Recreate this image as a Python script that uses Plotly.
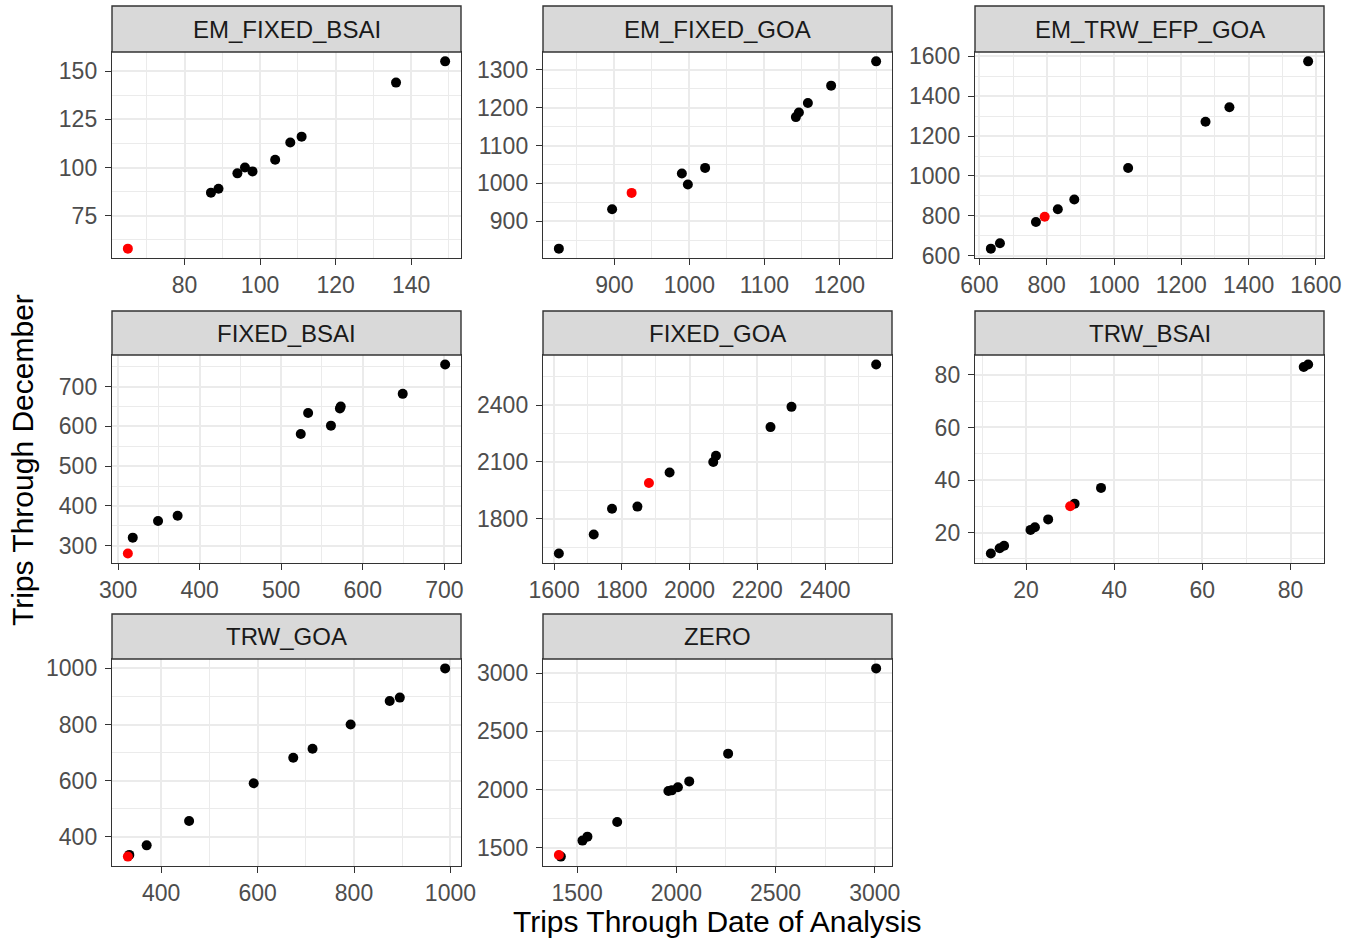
import numpy as np
import plotly.graph_objects as go

W, H = 1357, 943

panel_names = ["EM_FIXED_BSAI", "EM_FIXED_GOA", "EM_TRW_EFP_GOA",
               "FIXED_BSAI", "FIXED_GOA", "TRW_BSAI", "TRW_GOA", "ZERO"]

# black points (Trips Through Date of Analysis, Trips Through December)
em_fixed_bsai_x = [87, 89, 94, 96, 98, 104, 108, 111, 136, 149]
em_fixed_bsai_y = [87, 89, 97, 100, 98, 104, 113, 116, 144, 155]
em_fixed_goa_x = [826, 897, 990, 998, 1021, 1142, 1146, 1158, 1189, 1249]
em_fixed_goa_y = [828, 932, 1026, 997, 1041, 1175, 1187, 1212, 1258, 1322]
em_trw_efp_goa_x = [634, 661, 768, 833, 882, 1042, 1272, 1343, 1577]
em_trw_efp_goa_y = [635, 662, 769, 833, 882, 1040, 1272, 1345, 1575]
fixed_bsai_x = [318, 349, 373, 524, 533, 561, 572, 573, 649, 701]
fixed_bsai_y = [320, 362, 375, 581, 634, 602, 645, 650, 682, 756]
fixed_goa_x = [1614, 1717, 1771, 1846, 1941, 2070, 2078, 2239, 2301, 2551]
fixed_goa_y = [1616, 1717, 1853, 1864, 2044, 2100, 2133, 2284, 2391, 2615]
trw_bsai_x = [12, 14, 15, 21, 22, 25, 31, 37, 83, 84]
trw_bsai_y = [12, 14, 15, 21, 22, 25, 31, 37, 83, 84]
trw_goa_x = [334, 370, 458, 592, 674, 714, 793, 874, 895, 989]
trw_goa_y = [336, 370, 457, 591, 682, 714, 800, 884, 896, 1000]
zero_x = [1418, 1527, 1552, 1702, 1960, 1977, 2008, 2065, 2261, 3007]
zero_y = [1426, 1563, 1597, 1722, 1989, 1994, 2020, 2071, 2309, 3040]

# highlighted (red) point per panel, same order as panel_names
highlight_x = [65, 923, 794, 312, 1880, 30, 331, 1408]
highlight_y = [58, 975, 795, 280, 1989, 30, 330, 1440]

# major tick spacing per panel (x, y)
x_dticks = [20, 100, 200, 100, 200, 20, 200, 500]
y_dticks = [25, 100, 200, 100, 300, 20, 200, 500]

black_x = [em_fixed_bsai_x, em_fixed_goa_x, em_trw_efp_goa_x, fixed_bsai_x,
           fixed_goa_x, trw_bsai_x, trw_goa_x, zero_x]
black_y = [em_fixed_bsai_y, em_fixed_goa_y, em_trw_efp_goa_y, fixed_bsai_y,
           fixed_goa_y, trw_bsai_y, trw_goa_y, zero_y]

# layout in pixels
col_px = [(112, 461), (543, 892), (975, 1324)]
row_plot_px = [(52, 258), (355, 563), (659, 866)]
row_strip_px = [(6, 52), (311, 355), (614, 659)]

FONT = "Liberation Sans, Arial, sans-serif"
fig = go.Figure()
layout = dict(
    template="none",
    width=W, height=H, margin=dict(l=0, r=0, t=0, b=0, pad=0),
    paper_bgcolor="white", plot_bgcolor="white", showlegend=False,
    font=dict(family=FONT),
)
shapes = []
annotations = []


def rng(vals):
    lo, hi = min(vals), max(vals)
    pad = 0.05 * (hi - lo)
    return [lo - pad, hi + pad]


for i, name in enumerate(panel_names):
    r, c = divmod(i, 3)
    x0, x1 = col_px[c]
    py0, py1 = row_plot_px[r]
    sy0, sy1 = row_strip_px[r]
    xd = [x0 / W, x1 / W]
    yd = [1 - py1 / H, 1 - py0 / H]
    k = "" if i == 0 else str(i + 1)
    xs = black_x[i] + [highlight_x[i]]
    ys = black_y[i] + [highlight_y[i]]
    common = dict(
        automargin=False,
        showline=True, mirror=True, linecolor="#333333", linewidth=1.4,
        ticks="outside", ticklen=6, tickwidth=1.4, tickcolor="#333333",
        tickfont=dict(size=23, color="#4D4D4D", family=FONT),
        showgrid=True, gridcolor="#EBEBEB", gridwidth=2, zeroline=False,
        tick0=0,
    )
    layout["xaxis" + k] = dict(
        domain=xd, anchor="y" + k, range=rng(xs), dtick=x_dticks[i],
        minor=dict(showgrid=True, gridcolor="#EBEBEB", gridwidth=1,
                   dtick=x_dticks[i] / 2, tick0=0, ticks=""),
        **common)
    layout["yaxis" + k] = dict(
        domain=yd, anchor="x" + k, range=rng(ys), dtick=y_dticks[i],
        ticklabelstandoff=3,
        minor=dict(showgrid=True, gridcolor="#EBEBEB", gridwidth=1,
                   dtick=y_dticks[i] / 2, tick0=0, ticks=""),
        **common)
    fig.add_trace(go.Scatter(x=black_x[i], y=black_y[i], mode="markers",
                             marker=dict(color="black", size=10, line=dict(width=0)),
                             xaxis="x" + k, yaxis="y" + k))
    fig.add_trace(go.Scatter(x=[highlight_x[i]], y=[highlight_y[i]], mode="markers",
                             marker=dict(color="#FF0000", size=10, line=dict(width=0)),
                             xaxis="x" + k, yaxis="y" + k))
    shapes.append(dict(type="rect", xref="paper", yref="paper",
                       x0=x0 / W, x1=x1 / W, y0=1 - sy1 / H, y1=1 - sy0 / H,
                       fillcolor="#D9D9D9", line=dict(color="#333333", width=1.4),
                       layer="above"))
    annotations.append(dict(text=name, xref="paper", yref="paper",
                            x=(x0 + x1) / 2 / W, y=1 - (sy0 + sy1) / 2 / H,
                            showarrow=False, xanchor="center", yanchor="middle",
                            font=dict(size=24, color="#1A1A1A", family=FONT)))

annotations.append(dict(text="Trips Through Date of Analysis", xref="paper", yref="paper",
                        x=717 / W, y=1 - 921 / H, showarrow=False,
                        xanchor="center", yanchor="middle",
                        font=dict(size=30, color="black", family=FONT)))
annotations.append(dict(text="Trips Through December", xref="paper", yref="paper",
                        x=22 / W, y=1 - 460 / H, showarrow=False, textangle=-90,
                        xanchor="center", yanchor="middle",
                        font=dict(size=30, color="black", family=FONT)))

layout["shapes"] = shapes
layout["annotations"] = annotations
fig.update_layout(**layout)
fig.write_html("out.html")
